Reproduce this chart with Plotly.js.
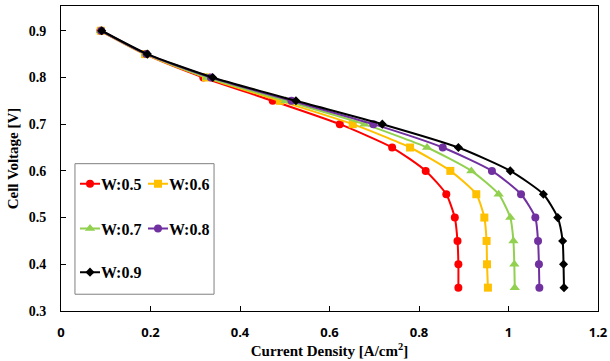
<!DOCTYPE html>
<html><head><meta charset="utf-8">
<script src="https://cdn.plot.ly/plotly-3.0.1.min.js"></script>
<style>
html,body{margin:0;padding:0;background:#fff}#chart{width:610px;height:361px}
#chart .legendlines path{d:path("M19,0h20");}
#chart .legendpoints path{transform:translate(29px,0px) !important;}
</style>
</head><body><div id="chart"></div>
<script>
const voltage = [0.9, 0.85, 0.8, 0.75, 0.7, 0.65, 0.6, 0.55, 0.5, 0.45, 0.4, 0.35];
const seriesNames = ['W:0.5', 'W:0.6', 'W:0.7', 'W:0.8', 'W:0.9'];
const cdW05 = [0.088, 0.188, 0.318, 0.473, 0.623, 0.740, 0.815, 0.861, 0.880, 0.886, 0.888, 0.888];
const cdW06 = [0.089, 0.188, 0.324, 0.489, 0.652, 0.780, 0.870, 0.928, 0.946, 0.951, 0.952, 0.954];
const cdW07 = [0.089, 0.190, 0.326, 0.502, 0.678, 0.818, 0.917, 0.978, 1.004, 1.011, 1.013, 1.014];
const cdW08 = [0.090, 0.191, 0.335, 0.515, 0.698, 0.853, 0.963, 1.028, 1.060, 1.066, 1.068, 1.069];
const cdW09 = [0.091, 0.193, 0.339, 0.525, 0.718, 0.888, 1.004, 1.078, 1.110, 1.121, 1.123, 1.124];
const xTicks = [0, 0.2, 0.4, 0.6, 0.8, 1, 1.2];
const yTicks = [0.3, 0.4, 0.5, 0.6, 0.7, 0.8, 0.9];

const allX = [cdW05, cdW06, cdW07, cdW08, cdW09];
const colors = ['#FF0000', '#FFC000', '#92D050', '#7030A0', '#000000'];
const symbols = ['circle', 'square', 'triangle-up', 'circle', 'diamond'];
const msizes = [8, 8, 9, 8, 7];
const legendIds = ['legend', 'legend2', 'legend3', 'legend4', 'legend5'];

const traces = allX.map((xs, i) => ({
  x: xs, y: voltage, name: seriesNames[i], type: 'scatter', mode: 'lines+markers',
  line: {color: colors[i], width: 2, shape: 'spline', smoothing: 0.6},
  marker: {color: colors[i], symbol: symbols[i], size: msizes[i]},
  legend: legendIds[i]
}));

const legFont = {family: 'Liberation Serif', size: 16, color: '#000', weight: 'bold'};
const legPos = [[0.0, 0.417], [0.1266, 0.417], [0.0, 0.270], [0.1266, 0.270], [0.0, 0.127]];
const layout = {
  width: 610, height: 361,
  margin: {l: 61, r: 12, t: 6, b: 50},
  paper_bgcolor: '#fff', plot_bgcolor: '#fff',
  showlegend: true,
  xaxis: {
    range: [0, 1.2], tickvals: xTicks, ticktext: xTicks.map(String),
    ticks: 'inside', ticklen: 5, tickcolor: '#000', showgrid: false, zeroline: false,
    showline: true, linecolor: '#000', linewidth: 1, mirror: true, ticklabelstandoff: 9,
    tickfont: {family: 'Open Sans', size: 13, color: '#000', weight: 'bold'},
    title: {text: 'Current Density [A/cm<sup>2</sup>]', standoff: 4,
      font: {family: 'Liberation Serif', size: 15, color: '#000', weight: 'bold'}}
  },
  yaxis: {
    range: [0.3, 0.953], tickvals: yTicks, ticktext: yTicks.map(v => v.toFixed(1)),
    ticks: 'inside', ticklen: 5, tickcolor: '#000', showgrid: false, zeroline: false,
    showline: true, linecolor: '#000', linewidth: 1, mirror: true, ticklabelstandoff: 11,
    tickfont: {family: 'Liberation Serif', size: 14, color: '#000', weight: 'bold'},
    title: {text: 'Cell Voltage [V]', standoff: 6,
      font: {family: 'Liberation Serif', size: 15, color: '#000', weight: 'bold'}}
  },
  shapes: [{type: 'rect', xref: 'paper', yref: 'paper', x0: 0.026, x1: 0.285, y0: 0.055, y1: 0.483,
    line: {color: '#808080', width: 1}, fillcolor: 'rgba(0,0,0,0)'}]
};
legendIds.forEach((id, i) => {
  layout[id] = {x: legPos[i][0], y: legPos[i][1], xanchor: 'left', yanchor: 'middle',
    bgcolor: 'rgba(0,0,0,0)', borderwidth: 0, font: legFont, itemwidth: 30};
});
Plotly.newPlot('chart', traces, layout, {displayModeBar: false, staticPlot: true});
</script></body></html>
